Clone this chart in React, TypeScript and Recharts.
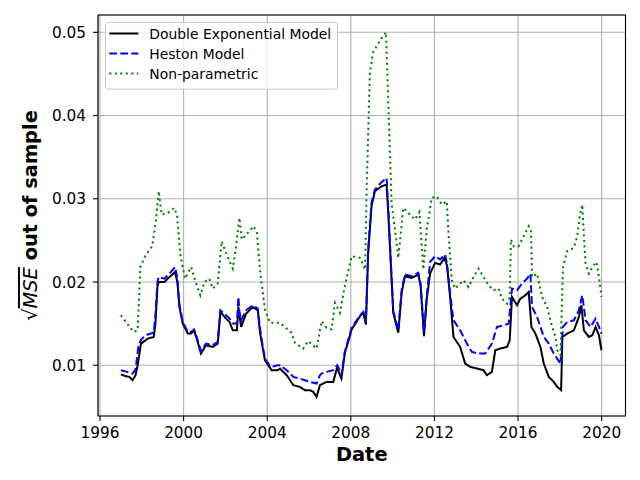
import React from "react";
import {
  LineChart,
  Line,
  XAxis,
  YAxis,
  CartesianGrid,
  Legend,
  ReferenceArea,
} from "recharts";

const FONT = "'DejaVu Sans', sans-serif";

const xTicks = [1996, 2000, 2004, 2008, 2012, 2016, 2020];
const yTicks = [0.01, 0.02, 0.03, 0.04, 0.05];
const xDomain = [1995.904, 2021.14];
const yDomain = [0.0039, 0.05208];

// Double Exponential Model
const dexYears = [
  1997.0, 1997.2, 1997.4, 1997.56, 1997.7, 1997.8, 1997.96, 1998.28, 1998.57, 1998.65,
  1998.75, 1998.81, 1999.08, 1999.32, 1999.59, 1999.7, 1999.8, 1999.96, 2000.2, 2000.35,
  2000.5, 2000.65, 2000.83, 2001.07, 2001.39, 2001.63, 2001.76, 2002.03, 2002.2, 2002.35,
  2002.55, 2002.62, 2002.67, 2002.75, 2002.99, 2003.31, 2003.55, 2003.65, 2003.79, 2003.89,
  2004.11, 2004.21, 2004.5, 2004.61, 2004.93, 2005.25, 2005.56, 2005.8, 2006.04, 2006.2,
  2006.36, 2006.52, 2006.84, 2007.16, 2007.35, 2007.45, 2007.55, 2007.71, 2008.04, 2008.44,
  2008.6, 2008.72, 2008.83, 2008.99, 2009.15, 2009.47, 2009.71, 2009.79, 2009.95, 2010.03,
  2010.27, 2010.43, 2010.59, 2010.91, 2011.23, 2011.34, 2011.5, 2011.63, 2011.79, 2012.03,
  2012.27, 2012.48, 2012.6, 2012.75, 2012.91, 2013.23, 2013.47, 2013.71, 2014.03, 2014.35,
  2014.51, 2014.75, 2014.91, 2015.15, 2015.47, 2015.6, 2015.71, 2015.95, 2016.11, 2016.35,
  2016.51, 2016.64, 2016.83, 2017.07, 2017.23, 2017.47, 2017.71, 2017.87, 2018.06, 2018.12,
  2018.35, 2018.67, 2018.91, 2019.03, 2019.15, 2019.39, 2019.55, 2019.71, 2019.87, 2019.99,
];
const dexValues = [
  0.0089, 0.0087, 0.0086, 0.0082, 0.0088, 0.01, 0.0126, 0.0132, 0.0134, 0.015,
  0.0195, 0.02, 0.02, 0.0206, 0.0212, 0.02, 0.017, 0.015, 0.0138, 0.0138,
  0.0142, 0.013, 0.0114, 0.0124, 0.0122, 0.0126, 0.0164, 0.0156, 0.0152, 0.0142,
  0.0142, 0.017, 0.016, 0.0146, 0.0162, 0.017, 0.0166, 0.014, 0.012, 0.0106,
  0.0098, 0.0094, 0.0094, 0.0096, 0.0088, 0.0076, 0.0074, 0.007, 0.007, 0.0068,
  0.0062, 0.0076, 0.008, 0.008, 0.0098, 0.009, 0.0084, 0.0114, 0.0143, 0.0159,
  0.0163, 0.0149, 0.0235, 0.0291, 0.0309, 0.0315, 0.0317, 0.0283, 0.0203, 0.0163,
  0.0139, 0.0187, 0.0207, 0.0205, 0.0209, 0.0195, 0.0135, 0.0179, 0.021, 0.0223,
  0.0221, 0.0229, 0.022, 0.0182, 0.0134, 0.0122, 0.0102, 0.0098, 0.0096, 0.0094,
  0.0088, 0.0092, 0.0118, 0.012, 0.0122, 0.013, 0.0182, 0.0172, 0.018, 0.0184,
  0.0188, 0.0146, 0.0138, 0.0122, 0.0102, 0.0086, 0.008, 0.0074, 0.007, 0.0134,
  0.0138, 0.0142, 0.0158, 0.0172, 0.0142, 0.0134, 0.0136, 0.0146, 0.0136, 0.0118,
];

// Heston Model
const hestonYears = [
  1997.0, 1997.3, 1997.56, 1997.7, 1997.85, 1998.0, 1998.28, 1998.57, 1998.65, 1998.75,
  1998.81, 1999.08, 1999.32, 1999.59, 1999.7, 1999.8, 1999.96, 2000.2, 2000.35, 2000.5,
  2000.65, 2000.83, 2001.07, 2001.39, 2001.63, 2001.76, 2002.03, 2002.2, 2002.35, 2002.55,
  2002.62, 2002.67, 2002.75, 2002.99, 2003.31, 2003.55, 2003.65, 2003.79, 2003.89, 2004.11,
  2004.21, 2004.5, 2004.61, 2004.93, 2005.25, 2005.56, 2005.8, 2006.04, 2006.36, 2006.52,
  2006.6, 2006.84, 2007.16, 2007.35, 2007.45, 2007.55, 2007.71, 2008.04, 2008.44, 2008.6,
  2008.72, 2008.83, 2008.99, 2009.15, 2009.47, 2009.71, 2009.79, 2009.95, 2010.03, 2010.27,
  2010.43, 2010.59, 2010.91, 2011.23, 2011.34, 2011.5, 2011.63, 2011.79, 2012.03, 2012.27,
  2012.51, 2012.6, 2012.75, 2012.91, 2013.23, 2013.55, 2013.79, 2014.11, 2014.43, 2014.75,
  2014.99, 2015.31, 2015.55, 2015.71, 2015.95, 2016.19, 2016.43, 2016.59, 2016.67, 2016.91,
  2017.23, 2017.47, 2017.71, 2018.03, 2018.15, 2018.35, 2018.67, 2018.91, 2019.07, 2019.23,
  2019.47, 2019.71, 2019.87, 2019.99,
];
const hestonValues = [
  0.0094, 0.0092, 0.009, 0.0095, 0.0125, 0.0132, 0.0137, 0.0139, 0.016, 0.02,
  0.0206, 0.0204, 0.021, 0.0218, 0.0205, 0.0172, 0.0152, 0.014, 0.014, 0.0143,
  0.0132, 0.0117, 0.0126, 0.0124, 0.0128, 0.0166, 0.016, 0.0156, 0.015, 0.015,
  0.0182, 0.0165, 0.0154, 0.0166, 0.0172, 0.0168, 0.0145, 0.0122, 0.0108, 0.01,
  0.0098, 0.01, 0.01, 0.0094, 0.0086, 0.0084, 0.0082, 0.008, 0.0078, 0.0088,
  0.009, 0.0092, 0.0094, 0.01, 0.0095, 0.0088, 0.0116, 0.0145, 0.016, 0.0164,
  0.0152, 0.024, 0.0295, 0.0311, 0.032, 0.0325, 0.029, 0.0205, 0.0165, 0.0142,
  0.019, 0.0209, 0.0207, 0.0211, 0.0197, 0.014, 0.0182, 0.0224, 0.0231, 0.0227,
  0.0233, 0.0222, 0.0186, 0.0154, 0.0142, 0.0126, 0.0116, 0.0114, 0.0114, 0.0126,
  0.0146, 0.0148, 0.015, 0.0192, 0.019, 0.0198, 0.0204, 0.021, 0.017, 0.0158,
  0.0134, 0.0126, 0.0114, 0.0102, 0.0146, 0.0152, 0.0154, 0.0166, 0.0184, 0.0154,
  0.0146, 0.0156, 0.0146, 0.0138,
];

// Non-parametric
const nonParYears = [
  1997.0, 1997.3, 1997.6, 1997.8, 1997.93, 1998.2, 1998.5, 1998.68, 1998.81, 1998.95,
  1999.24, 1999.56, 1999.69, 1999.85, 2000.07, 2000.36, 2000.6, 2000.8, 2001.0, 2001.23,
  2001.39, 2001.63, 2001.82, 2002.03, 2002.35, 2002.51, 2002.67, 2002.78, 2003.07, 2003.35,
  2003.51, 2003.65, 2003.89, 2004.13, 2004.61, 2005.16, 2005.33, 2005.72, 2005.96, 2006.36,
  2006.6, 2006.84, 2007.08, 2007.24, 2007.48, 2007.71, 2008.04, 2008.44, 2008.68, 2008.76,
  2008.91, 2009.07, 2009.39, 2009.68, 2009.79, 2009.95, 2010.11, 2010.27, 2010.51, 2010.83,
  2011.07, 2011.28, 2011.47, 2011.63, 2011.87, 2012.11, 2012.35, 2012.59, 2012.67, 2012.83,
  2012.99, 2013.23, 2013.39, 2013.63, 2013.87, 2014.11, 2014.35, 2014.59, 2014.83, 2015.07,
  2015.23, 2015.47, 2015.6, 2015.66, 2015.79, 2016.03, 2016.27, 2016.51, 2016.62, 2016.67,
  2016.91, 2017.15, 2017.39, 2017.63, 2017.79, 2017.87, 2018.03, 2018.15, 2018.35, 2018.67,
  2018.83, 2018.95, 2019.07, 2019.15, 2019.23, 2019.39, 2019.55, 2019.75, 2019.87, 2019.99,
];
const nonParValues = [
  0.016, 0.015, 0.014, 0.0142, 0.0218, 0.0233, 0.0243, 0.0275, 0.0309, 0.0281,
  0.0283, 0.0289, 0.0279, 0.0231, 0.0204, 0.0218, 0.0198, 0.0184, 0.02, 0.0204,
  0.0192, 0.0198, 0.0249, 0.0235, 0.0216, 0.0243, 0.0277, 0.0251, 0.0259, 0.0267,
  0.0259, 0.0215, 0.0167, 0.0151, 0.0151, 0.0139, 0.0127, 0.012, 0.0129, 0.012,
  0.0153, 0.0145, 0.0143, 0.0175, 0.0163, 0.0195, 0.0231, 0.0229, 0.0215, 0.0315,
  0.0452, 0.0476, 0.049, 0.05, 0.0416, 0.0295, 0.0263, 0.0229, 0.0289, 0.0281,
  0.0275, 0.0284, 0.0215, 0.0263, 0.0301, 0.0303, 0.0293, 0.0297, 0.0259, 0.0202,
  0.0192, 0.0198, 0.0202, 0.0194, 0.0206, 0.0216, 0.0206, 0.0196, 0.019, 0.0192,
  0.018, 0.0174, 0.0182, 0.0251, 0.0243, 0.0243, 0.0255, 0.0267, 0.0261, 0.0206,
  0.021, 0.0182, 0.017, 0.0146, 0.0134, 0.0118, 0.0112, 0.0218, 0.0237, 0.0241,
  0.0255, 0.0279, 0.0293, 0.0255, 0.0222, 0.021, 0.0218, 0.0224, 0.0206, 0.0182,
];

const toPoints = (years: number[], values: number[]) =>
  years.map((year, i) => ({ year, value: values[i] }));

const series = [
  { name: "Double Exponential Model", color: "#000000", dash: undefined, data: toPoints(dexYears, dexValues) },
  { name: "Heston Model", color: "#0000ff", dash: "7.7 3.3", data: toPoints(hestonYears, hestonValues) },
  { name: "Non-parametric", color: "#008000", dash: "2.1 3.4", data: toPoints(nonParYears, nonParValues) },
];

const XTick = ({ x, y, payload }: any) => (
  <text x={x} y={y + 15} textAnchor="middle" fontFamily={FONT} fontSize={15.3} fill="#000">
    {payload.value}
  </text>
);

const YTick = ({ x, y, payload }: any) => (
  <text x={x - 5} y={y + 5.5} textAnchor="end" fontFamily={FONT} fontSize={15.3} fill="#000">
    {Number(payload.value).toFixed(2)}
  </text>
);

const XLabel = () => (
  <text x={361.75} y={461} textAnchor="middle" fontFamily={FONT} fontSize={19.4} fontWeight="bold" fill="#000">
    Date
  </text>
);

const YLabel = () => (
  <text
    transform="translate(37, 215.5) rotate(-90)"
    textAnchor="middle"
    fontFamily={FONT}
    fontSize={19.4}
    fill="#000"
  >
    <tspan>√</tspan>
    <tspan fontStyle="italic" style={{ textDecoration: "overline" }}>MSE</tspan>
    <tspan fontWeight="bold">{"\u00a0out of sample"}</tspan>
  </text>
);

// legend frame drawn as its own svg so the box, samples and labels line up exactly
const renderLegend = () => (
  <svg width={234} height={69} style={{ display: "block" }}>
    <rect
      x={0.5}
      y={0.5}
      width={232}
      height={66.6}
      rx={3}
      ry={3}
      fill="#ffffff"
      fillOpacity={0.8}
      stroke="#cccccc"
      strokeWidth={1}
    />
    {series.map((s, i) => (
      <g key={s.name}>
        <line
          x1={4.3}
          x2={33.3}
          y1={11.5 + i * 20}
          y2={11.5 + i * 20}
          stroke={s.color}
          strokeWidth={2}
          strokeDasharray={s.dash}
        />
        <text x={44.3} y={16.5 + i * 20} fontFamily={FONT} fontSize={13.9} fill="#000">
          {s.name}
        </text>
      </g>
    ))}
  </svg>
);

export default function App() {
  return (
    <div style={{ position: "absolute", left: 0, top: 0, width: 640, height: 480, background: "#fff" }}>
      <LineChart width={640} height={480} margin={{ top: 15, right: 14.5, bottom: 0, left: 0 }}>
        <CartesianGrid stroke="#b0b0b0" strokeWidth={1.1} />
        <XAxis
          dataKey="year"
          type="number"
          domain={xDomain}
          ticks={xTicks}
          allowDataOverflow
          height={64}
          axisLine={false}
          tickSize={5}
          tickLine={{ stroke: "#000", strokeWidth: 1.1 }}
          tick={<XTick />}
          label={<XLabel />}
        />
        <YAxis
          type="number"
          domain={yDomain}
          ticks={yTicks}
          allowDataOverflow
          width={98}
          axisLine={false}
          tickSize={5}
          tickLine={{ stroke: "#000", strokeWidth: 1.1 }}
          tick={<YTick />}
          label={<YLabel />}
        />
        {series.map((s) => (
          <Line
            key={s.name}
            data={s.data}
            dataKey="value"
            name={s.name}
            type="linear"
            stroke={s.color}
            strokeWidth={2}
            strokeDasharray={s.dash}
            dot={false}
            activeDot={false}
            isAnimationActive={false}
          />
        ))}
        <ReferenceArea
          x1={xDomain[0]}
          x2={xDomain[1]}
          y1={yDomain[0]}
          y2={yDomain[1]}
          fill="none"
          stroke="#000"
          strokeWidth={1.1}
          ifOverflow="visible"
        />
        <Legend
          layout="horizontal"
          verticalAlign="middle"
          align="center"
          content={renderLegend}
          wrapperStyle={{ left: 105, top: 22.2, width: 234, height: 69 }}
        />
      </LineChart>
    </div>
  );
}
